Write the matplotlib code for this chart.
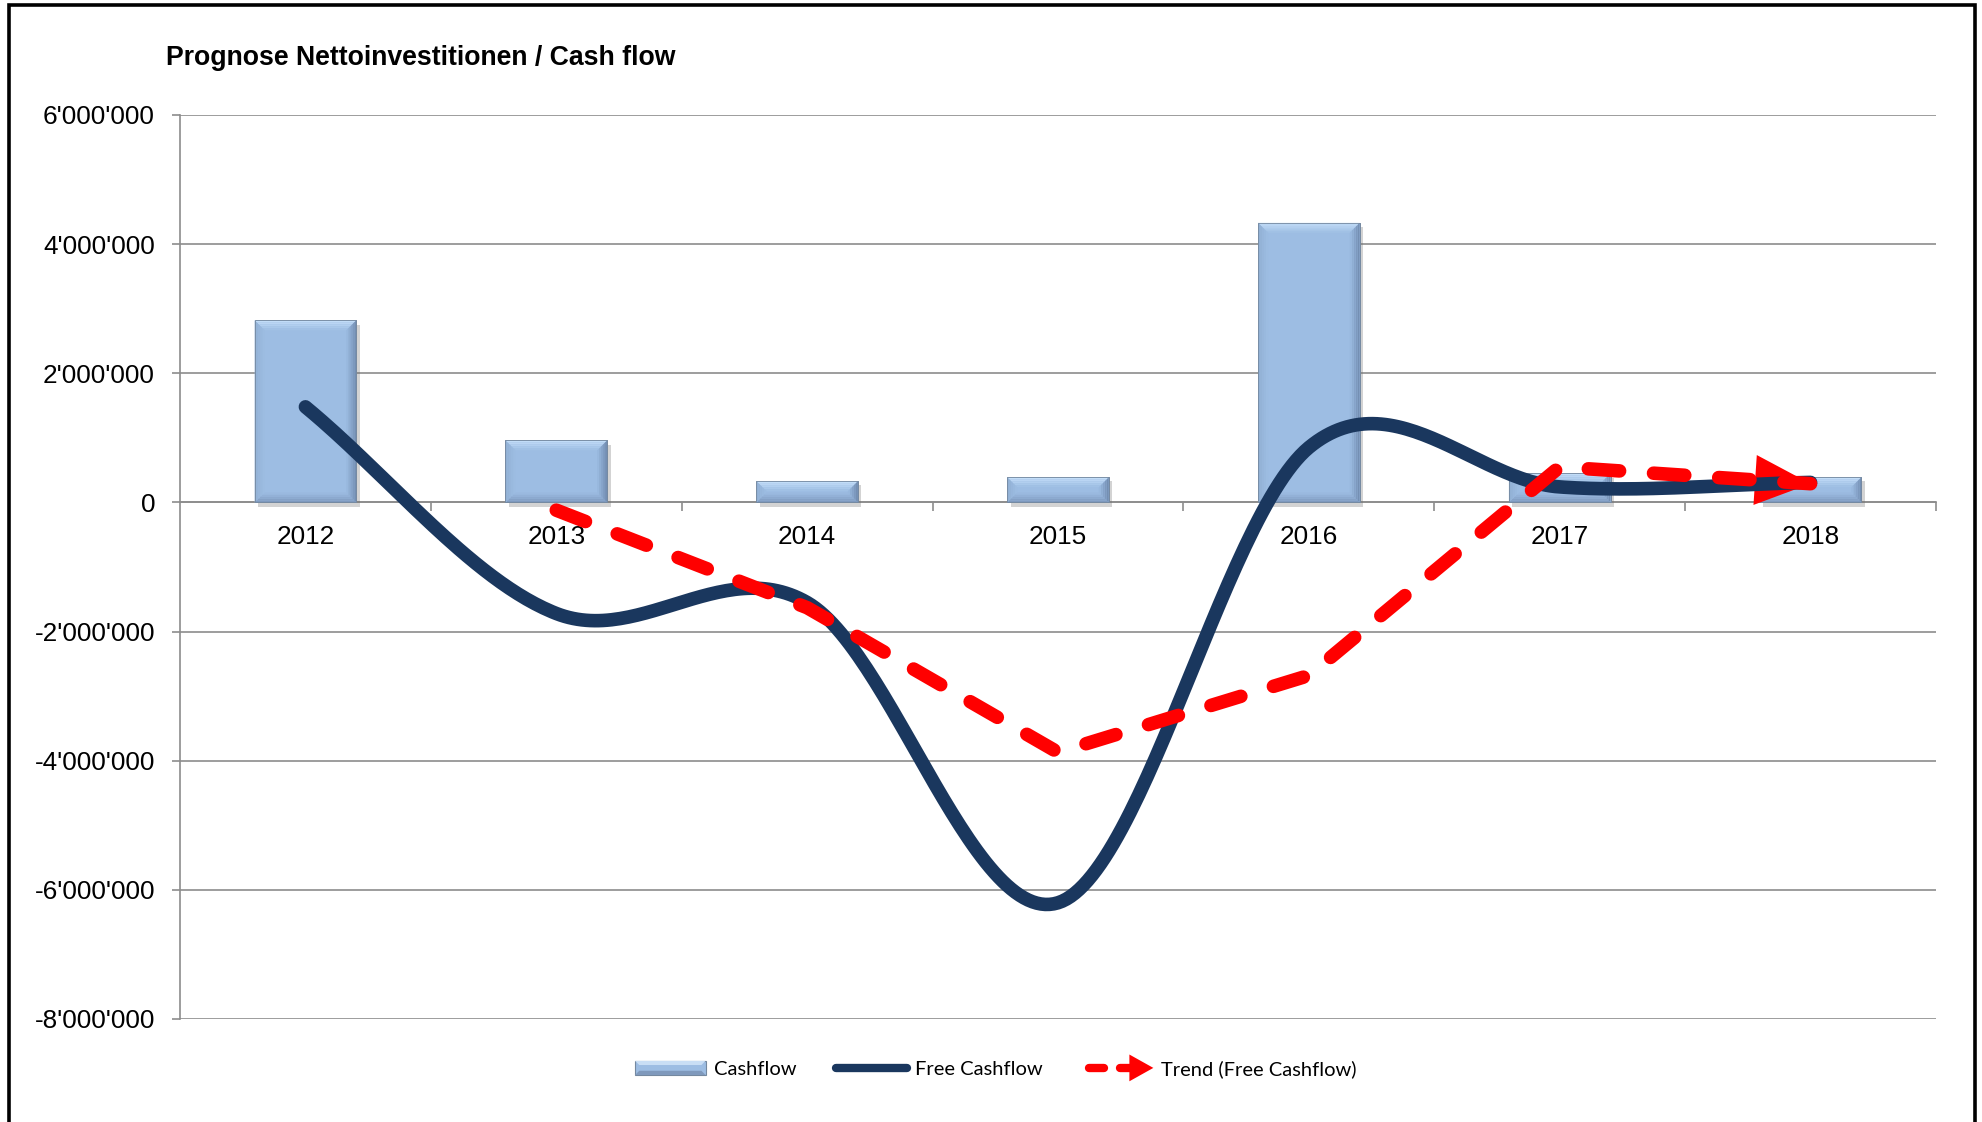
import numpy as np
import matplotlib
matplotlib.use("Agg")
import matplotlib.pyplot as plt
from matplotlib.patches import Polygon, Patch, Rectangle
from matplotlib.lines import Line2D
from matplotlib.legend_handler import HandlerBase
from matplotlib.ticker import FuncFormatter, FixedLocator
import matplotlib.patheffects as pe
from matplotlib.colors import to_rgb

# ---------------- data ----------------
years = ["2012", "2013", "2014", "2015", "2016", "2017", "2018"]
cashflow = [2.82e6, 0.96e6, 0.33e6, 0.39e6, 4.33e6, 0.45e6, 0.39e6]
free_cashflow = [1.48e6, -1.72e6, -1.55e6, -6.2e6, 0.85e6, 0.24e6, 0.31e6]
trend = [np.nan, -0.12e6, -1.63e6, -3.87e6, -2.68e6, 0.55e6, 0.29e6]
y_ticks = [-8e6, -6e6, -4e6, -2e6, 0, 2e6, 4e6, 6e6]

title = "Prognose Nettoinvestitionen / Cash flow"
legend_labels = ["Cashflow", "Free Cashflow", "Trend (Free Cashflow)"]

BAR_COLOR = "#9DBDE3"
NAVY = "#1A375E"
RED = "#FF0000"
GRID = "#8C8C8C"

W, H = 1982, 1122
fig = plt.figure(figsize=(W / 100, H / 100), dpi=100)
fig.patch.set_facecolor("white")

ax = fig.add_axes([180 / W, 1 - 1019 / H, (1936 - 180) / W, (1019 - 115) / H])
x = np.arange(len(years))
ax.set_xlim(-0.5, len(years) - 0.5)
ax.set_ylim(y_ticks[0], y_ticks[-1])

# ---------------- bars ----------------
bars = ax.bar(x, cashflow, width=0.405, color=BAR_COLOR, edgecolor="#7C90AB",
              linewidth=0.6, zorder=2,
              path_effects=[pe.SimplePatchShadow(offset=(2.5, -3), shadow_rgbFace="#707070", alpha=0.3),
                            pe.Normal()])

p0 = ax.transData.transform((0, 0))
p1 = ax.transData.transform((1, 1e6))
px_x = p1[0] - p0[0]
px_y = (p1[1] - p0[1]) / 1e6
bpx = 10
nb = 5
main = np.array(to_rgb(BAR_COLOR))
edges = {"top": "#C6E0FA", "bottom": "#7A95BA", "left": "#90AED2", "right": "#6F8AAE"}


def mix(c, f):
    return tuple(np.array(to_rgb(c)) * (1 - f) + main * f)


for r in bars:
    x0, w, h = r.get_x(), r.get_width(), r.get_height()
    x1 = x0 + w
    bxm = bpx / px_x
    bym = min(bpx / px_y, h / 2)
    for k in range(nb):
        a, b = k / nb, (k + 1) / nb
        f = (k + 0.5) / nb
        ax0, ax1 = a * bxm, b * bxm
        ay0, ay1 = a * bym, b * bym
        sides = {
            "top": [(x0 + ax0, h - ay0), (x1 - ax0, h - ay0), (x1 - ax1, h - ay1), (x0 + ax1, h - ay1)],
            "bottom": [(x0 + ax0, ay0), (x1 - ax0, ay0), (x1 - ax1, ay1), (x0 + ax1, ay1)],
            "left": [(x0 + ax0, ay0), (x0 + ax0, h - ay0), (x0 + ax1, h - ay1), (x0 + ax1, ay1)],
            "right": [(x1 - ax0, ay0), (x1 - ax0, h - ay0), (x1 - ax1, h - ay1), (x1 - ax1, ay1)],
        }
        for s, pts in sides.items():
            ax.add_patch(Polygon(pts, closed=True, facecolor=mix(edges[s], f), edgecolor="none",
                                 lw=0, zorder=2.1, antialiased=True))
    ax.add_patch(Rectangle((x0, 0), w, h, fill=False, edgecolor="#74889F", lw=0.6, zorder=2.2))


# ---------------- smoothed free cashflow ----------------
def smooth(xs, ys, n=60):
    xs = np.asarray(xs, float)
    ys = np.asarray(ys, float)
    m = np.zeros_like(ys)
    m[1:-1] = (ys[2:] - ys[:-2]) / 2
    m[0] = ys[1] - ys[0]
    m[-1] = ys[-1] - ys[-2]
    ox, oy = [], []
    for i in range(len(ys) - 1):
        t = np.linspace(0, 1, n)
        h00 = 2 * t**3 - 3 * t**2 + 1
        h10 = t**3 - 2 * t**2 + t
        h01 = -2 * t**3 + 3 * t**2
        h11 = t**3 - t**2
        oy.append(h00 * ys[i] + h10 * m[i] + h01 * ys[i + 1] + h11 * m[i + 1])
        ox.append(xs[i] + t * (xs[i + 1] - xs[i]))
    return np.concatenate(ox), np.concatenate(oy)


sx, sy = smooth(x, free_cashflow)
ax.plot(sx, sy, color=NAVY, lw=9.8, solid_capstyle="round", solid_joinstyle="round", zorder=4)

# ---------------- trend ----------------
tx = x[1:]
ty = np.array(trend[1:])
ax.plot(tx, ty, color=RED, lw=9.8, dashes=(2.3, 2.5), dash_capstyle="round",
        dash_joinstyle="round", zorder=5)
ax.annotate("", xy=(tx[-1], ty[-1]), xytext=(tx[-2], ty[-2]),
            arrowprops=dict(arrowstyle="-|>,head_length=2.0,head_width=0.9",
                            color=RED, lw=0, mutation_scale=20,
                            shrinkA=0, shrinkB=0),
            zorder=3.5)

# ---------------- axes styling ----------------
for s in ["top", "right"]:
    ax.spines[s].set_visible(False)
ax.spines["left"].set_color(GRID)
ax.spines["left"].set_linewidth(1.2)
ax.spines["bottom"].set_position(("data", 0))
ax.spines["bottom"].set_color(GRID)
ax.spines["bottom"].set_linewidth(1.2)
ax.spines["bottom"].set_zorder(1.5)

ax.set_yticks(y_ticks)
ax.yaxis.set_major_formatter(FuncFormatter(lambda v, p: f"{int(round(v)):,}".replace(",", "'")))
ax.tick_params(axis="y", direction="out", length=6, width=1.2, color=GRID,
               pad=12, labelsize=18.8, labelcolor="black")
ax.yaxis.grid(True, color=GRID, lw=1.2)
ax.set_axisbelow(True)

ax.xaxis.set_major_locator(FixedLocator(np.arange(len(years)) + 0.5))
ax.xaxis.set_major_formatter(FuncFormatter(lambda v, p: ""))
ax.xaxis.set_minor_locator(FixedLocator(x))
ax.set_xticks(x, years, minor=True)
ax.tick_params(axis="x", which="major", direction="out", length=6.5, width=1.2, color=GRID)
ax.tick_params(axis="x", which="minor", length=0, pad=16, labelsize=18.8, labelcolor="black")

for lab in ax.get_yticklabels() + ax.get_xticklabels(minor=True):
    lab.set_fontfamily("Liberation Sans")

fig.text(166 / W, 1 - 58 / H, title, fontsize=19.2, fontweight="bold",
         family="Liberation Sans", va="center", ha="left")

# frame
fig.add_artist(Rectangle((9 / W, -0.05), (1975 - 9) / W, 1.05 - 5 / H, transform=fig.transFigure,
                         fill=False, edgecolor="black", lw=2.6))


# ---------------- legend ----------------
class TrendHandler(HandlerBase):
    def create_artists(self, legend, orig_handle, xdescent, ydescent, width, height, fontsize, trans):
        y = height / 2 - ydescent
        x0 = -xdescent
        lw = 6
        r = lw / 2 * 100 / 72
        a1 = Line2D([x0 + r, x0 + width * 0.30], [y, y], color=RED, lw=lw, solid_capstyle="round", transform=trans)
        a2 = Line2D([x0 + width * 0.45 + r, x0 + width * 0.7], [y, y], color=RED, lw=lw, solid_capstyle="round", transform=trans)
        hh = height * 0.95
        tri = Polygon([[x0 + width * 0.66, y + hh], [x0 + width, y], [x0 + width * 0.66, y - hh]],
                      closed=True, facecolor=RED, edgecolor="none", transform=trans)
        return [a1, a2, tri]


class BevelHandler(HandlerBase):
    def create_artists(self, legend, orig_handle, xdescent, ydescent, width, height, fontsize, trans):
        x0, y0 = -xdescent, -ydescent
        b = 3
        arts = [Rectangle((x0, y0), width, height, facecolor=BAR_COLOR, edgecolor="#74889F", lw=0.8, transform=trans)]
        arts.append(Polygon([(x0, y0 + height), (x0 + width, y0 + height), (x0 + width - b, y0 + height - b), (x0 + b, y0 + height - b)],
                            facecolor="#C9DEF5", edgecolor="none", transform=trans))
        arts.append(Polygon([(x0, y0), (x0 + width, y0), (x0 + width - b, y0 + b), (x0 + b, y0 + b)],
                            facecolor="#7F99BC", edgecolor="none", transform=trans))
        return arts


h_bar = Patch(facecolor=BAR_COLOR)
h_fcf = Line2D([], [], color=NAVY, lw=6, solid_capstyle="round")
h_tr = Line2D([], [], color=RED)
leg = fig.legend([h_bar, h_fcf, h_tr], legend_labels, loc="center",
                 bbox_to_anchor=(996 / W, 1 - 1069 / H), ncol=3, frameon=False,
                 prop={"family": "Lato", "size": 14.5},
                 handlelength=3.5, handletextpad=0.4, columnspacing=2.0,
                 handleheight=0.7,
                 handler_map={h_tr: TrendHandler(), h_bar: BevelHandler()})

fig.savefig("out.png", dpi=100, facecolor="white")
